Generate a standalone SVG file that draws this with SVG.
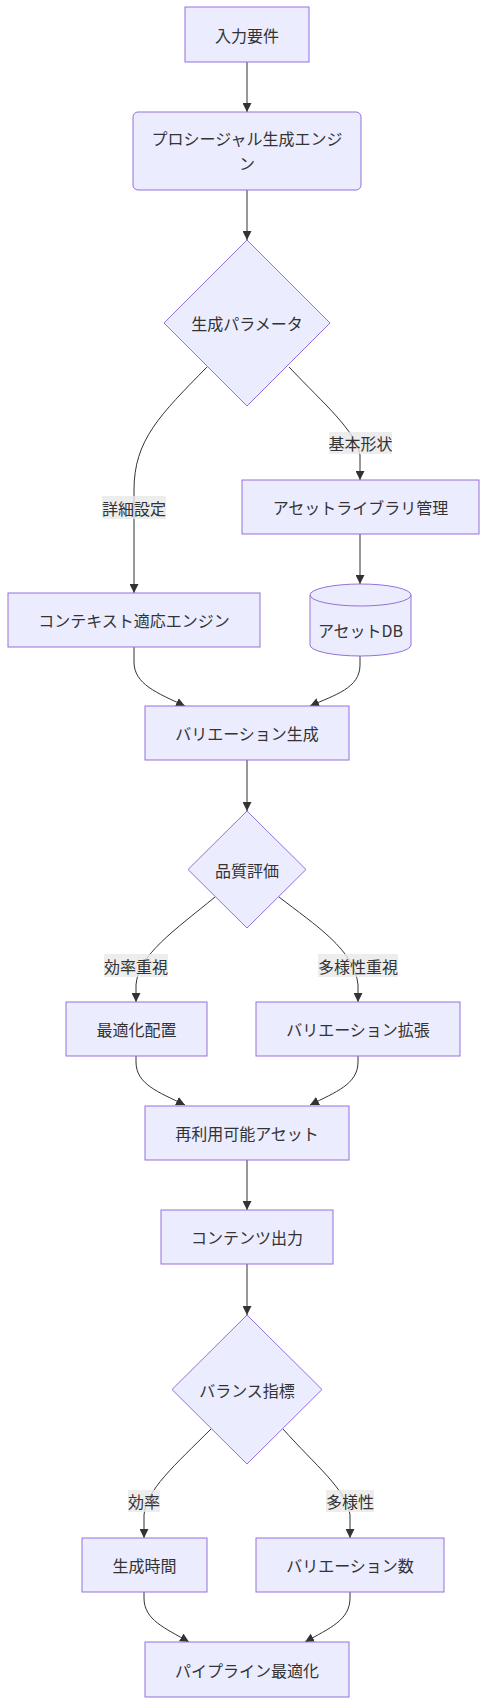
<svg xmlns="http://www.w3.org/2000/svg" width="487" height="1705" viewBox="0 0 487 1705">
<style>
.n{fill:#ECECFF;stroke:#9370DB;stroke-width:1}
.t{font-family:"Noto Sans CJK JP","Liberation Sans",sans-serif;font-size:16px;fill:#333;text-anchor:middle;dominant-baseline:central}
.e{fill:none;stroke:#333;stroke-width:1}
.lb{fill:#e8e8e8;opacity:0.8}
</style>
<defs>
<marker id="a" viewBox="0 0 10 10" refX="10" refY="5" markerWidth="9" markerHeight="9" markerUnits="userSpaceOnUse" orient="auto">
<path d="M0,0 L10,5 L0,10 z" fill="#333"/>
</marker>
</defs>
<rect width="487" height="1705" fill="#fff"/>
<g id="edges">
<path class="e" marker-end="url(#a)" d="M247,62 L247,112"/>
<path class="e" marker-end="url(#a)" d="M247,190 L247,240"/>
<path class="e" marker-end="url(#a)" d="M207,367 C160,415 134,440 134,490 L134,593"/>
<path class="e" marker-end="url(#a)" d="M289,367 C325,405 355,430 360,455 L360,480"/>
<path class="e" marker-end="url(#a)" d="M360,534 L360,584"/>
<path class="e" marker-end="url(#a)" d="M134,647 L134,662 C134,684 157,693 185,706"/>
<path class="e" marker-end="url(#a)" d="M360,656 L360,665 C360,688 335,695 310,706"/>
<path class="e" marker-end="url(#a)" d="M247,760 L247,811"/>
<path class="e" marker-end="url(#a)" d="M215,897 C175,930 138,955 136,985 L136,1002"/>
<path class="e" marker-end="url(#a)" d="M279,897 C315,925 355,950 358,985 L358,1002"/>
<path class="e" marker-end="url(#a)" d="M136,1056 L136,1062 C136,1084 158,1092 185,1105"/>
<path class="e" marker-end="url(#a)" d="M358,1056 L358,1062 C358,1084 336,1092 310,1105"/>
<path class="e" marker-end="url(#a)" d="M247,1160 L247,1210"/>
<path class="e" marker-end="url(#a)" d="M247,1264 L247,1315"/>
<path class="e" marker-end="url(#a)" d="M211,1429 C175,1465 146,1490 144,1515 L144,1538"/>
<path class="e" marker-end="url(#a)" d="M283,1429 C315,1465 347,1490 350,1515 L350,1538"/>
<path class="e" marker-end="url(#a)" d="M144,1592 L144,1598 C144,1620 165,1628 189,1642"/>
<path class="e" marker-end="url(#a)" d="M350,1592 L350,1598 C350,1620 330,1628 305,1642"/>
<g id="edge-labels">
<rect class="lb" x="329" y="432" width="63" height="22"/><text class="t" x="360.5" y="443">基本形状</text>
<rect class="lb" x="102" y="496" width="64" height="23"/><text class="t" x="134" y="507.5">詳細設定</text>
<rect class="lb" x="104" y="954" width="64" height="23"/><text class="t" x="136" y="965.5">効率重視</text>
<rect class="lb" x="318" y="954" width="80" height="23"/><text class="t" x="358" y="965.5">多様性重視</text>
<rect class="lb" x="128" y="1490" width="32" height="22"/><text class="t" x="144" y="1501">効率</text>
<rect class="lb" x="326" y="1490" width="48" height="22"/><text class="t" x="350" y="1501">多様性</text>
</g>
</g>
<g id="n1"><rect class="n" x="185" y="7" width="124" height="55"/><text class="t" x="247" y="34.5">入力要件</text></g>
<g id="n2"><rect class="n" x="133" y="112" width="228" height="78" rx="5" ry="5"/><text class="t" x="247" y="138">プロシージャル生成エンジ</text><text class="t" x="247" y="163">ン</text></g>
<g id="n3"><polygon class="n" points="247,240 330,323 247,406 164,323"/><text class="t" x="247" y="323">生成パラメータ</text></g>
<g id="n4"><rect class="n" x="242" y="480" width="237" height="54"/><text class="t" x="360.5" y="507">アセットライブラリ管理</text></g>
<g id="n5"><rect class="n" x="8" y="593" width="252" height="54"/><text class="t" x="134" y="620">コンテキスト適応エンジン</text></g>
<g id="n6"><path class="n" d="M310,595 a50.5,11 0 0,0 101,0 a50.5,11 0 0,0 -101,0 l0,50 a50.5,11 0 0,0 101,0 l0,-50"/><text class="t" x="360.5" y="630">アセットDB</text></g>
<g id="n7"><rect class="n" x="145" y="706" width="204" height="54"/><text class="t" x="247" y="733">バリエーション生成</text></g>
<g id="n8"><polygon class="n" points="247,811 306,869.5 247,928 188,869.5"/><text class="t" x="247" y="869.5">品質評価</text></g>
<g id="n9"><rect class="n" x="66" y="1002" width="141" height="54"/><text class="t" x="136.5" y="1029">最適化配置</text></g>
<g id="n10"><rect class="n" x="256" y="1002" width="204" height="54"/><text class="t" x="358" y="1029">バリエーション拡張</text></g>
<g id="n11"><rect class="n" x="145" y="1106" width="204" height="54"/><text class="t" x="247" y="1133">再利用可能アセット</text></g>
<g id="n12"><rect class="n" x="161" y="1210" width="172" height="54"/><text class="t" x="247" y="1237">コンテンツ出力</text></g>
<g id="n13"><polygon class="n" points="247,1315 322,1389.5 247,1464 172,1389.5"/><text class="t" x="247" y="1389.5">バランス指標</text></g>
<g id="n14"><rect class="n" x="82" y="1538" width="125" height="54"/><text class="t" x="144.5" y="1565">生成時間</text></g>
<g id="n15"><rect class="n" x="256" y="1538" width="188" height="54"/><text class="t" x="350" y="1565">バリエーション数</text></g>
<g id="n16"><rect class="n" x="145" y="1642" width="204" height="55"/><text class="t" x="247" y="1669.5">パイプライン最適化</text></g>
</svg>
